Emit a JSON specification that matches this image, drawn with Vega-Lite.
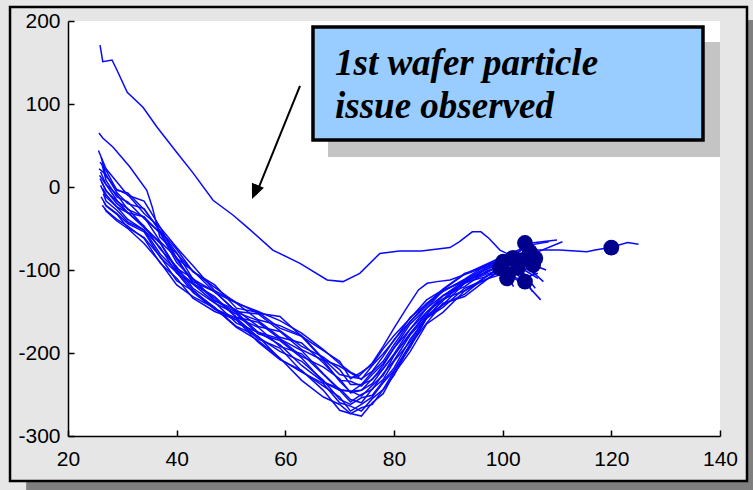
{
  "$schema": "https://vega.github.io/schema/vega-lite/v6.json",
  "width": 652,
  "height": 415,
  "autosize": "none",
  "padding": {"left": 68, "top": 21, "right": 33, "bottom": 54},
  "background": "#e6e6e6",
  "config": {
    "view": {"stroke": null, "fill": null},
    "axis": {
      "grid": false,
      "domainColor": "#000000",
      "domainWidth": 1.5,
      "tickColor": "#000000",
      "tickWidth": 1.5,
      "tickSize": -6,
      "labelFont": "Liberation Sans",
      "labelFontSize": 21,
      "labelColor": "#000000",
      "labelFlush": false,
      "labelOverlap": false
    }
  },
  "datasets": {
    "runs": [
      {"run":"r01","x":25.6,"y":44},{"run":"r01","x":27,"y":22},{"run":"r01","x":29,"y":6},{"run":"r01","x":31,"y":-10},{"run":"r01","x":34,"y":-17},{"run":"r01","x":37,"y":-49},{"run":"r01","x":40,"y":-73},{"run":"r01","x":43,"y":-95},{"run":"r01","x":47,"y":-125},{"run":"r01","x":51,"y":-139},{"run":"r01","x":55,"y":-152},{"run":"r01","x":59,"y":-156},{"run":"r01","x":63,"y":-180},{"run":"r01","x":67,"y":-197},{"run":"r01","x":70,"y":-210},{"run":"r01","x":72,"y":-231},{"run":"r01","x":74,"y":-223},{"run":"r01","x":76,"y":-214},{"run":"r01","x":78,"y":-195},{"run":"r01","x":80,"y":-179},{"run":"r01","x":83,"y":-158},{"run":"r01","x":86,"y":-136},{"run":"r01","x":89,"y":-124},{"run":"r01","x":93,"y":-105},{"run":"r01","x":97,"y":-93},{"run":"r01","x":100,"y":-84},{"run":"r01","x":103,"y":-78},{"run":"r01","x":105,"y":-70},{"run":"r01","x":108.5,"y":-66},
      {"run":"r02","x":25.9,"y":30},{"run":"r02","x":27,"y":20},{"run":"r02","x":29,"y":-4},{"run":"r02","x":31,"y":-7},{"run":"r02","x":34,"y":-27},{"run":"r02","x":37,"y":-53},{"run":"r02","x":40,"y":-75},{"run":"r02","x":43,"y":-102},{"run":"r02","x":47,"y":-118},{"run":"r02","x":51,"y":-146},{"run":"r02","x":55,"y":-151},{"run":"r02","x":59,"y":-170},{"run":"r02","x":63,"y":-180},{"run":"r02","x":67,"y":-208},{"run":"r02","x":70,"y":-216},{"run":"r02","x":72,"y":-224},{"run":"r02","x":74,"y":-232},{"run":"r02","x":76,"y":-215},{"run":"r02","x":78,"y":-201},{"run":"r02","x":80,"y":-185},{"run":"r02","x":83,"y":-157},{"run":"r02","x":86,"y":-141},{"run":"r02","x":89,"y":-123},{"run":"r02","x":93,"y":-104},{"run":"r02","x":97,"y":-96},{"run":"r02","x":100,"y":-87},{"run":"r02","x":102,"y":-84},{"run":"r02","x":104.5,"y":-68},{"run":"r02","x":110,"y":-64},
      {"run":"r03","x":26.1,"y":36},{"run":"r03","x":27,"y":13},{"run":"r03","x":29,"y":-3},{"run":"r03","x":31,"y":-9},{"run":"r03","x":34,"y":-32},{"run":"r03","x":37,"y":-49},{"run":"r03","x":40,"y":-86},{"run":"r03","x":43,"y":-101},{"run":"r03","x":47,"y":-127},{"run":"r03","x":51,"y":-140},{"run":"r03","x":55,"y":-160},{"run":"r03","x":59,"y":-167},{"run":"r03","x":63,"y":-179},{"run":"r03","x":67,"y":-207},{"run":"r03","x":70,"y":-226},{"run":"r03","x":72,"y":-229},{"run":"r03","x":74,"y":-231},{"run":"r03","x":76,"y":-222},{"run":"r03","x":78,"y":-204},{"run":"r03","x":80,"y":-184},{"run":"r03","x":83,"y":-162},{"run":"r03","x":86,"y":-140},{"run":"r03","x":89,"y":-126},{"run":"r03","x":93,"y":-111},{"run":"r03","x":97,"y":-94},{"run":"r03","x":100,"y":-87},{"run":"r03","x":101.5,"y":-88},{"run":"r03","x":103,"y":-92},{"run":"r03","x":106,"y":-80},
      {"run":"r04","x":25.7,"y":22},{"run":"r04","x":27,"y":15},{"run":"r04","x":29,"y":-7},{"run":"r04","x":31,"y":-20},{"run":"r04","x":34,"y":-26},{"run":"r04","x":37,"y":-54},{"run":"r04","x":40,"y":-79},{"run":"r04","x":43,"y":-111},{"run":"r04","x":47,"y":-126},{"run":"r04","x":51,"y":-150},{"run":"r04","x":55,"y":-153},{"run":"r04","x":59,"y":-173},{"run":"r04","x":63,"y":-192},{"run":"r04","x":67,"y":-205},{"run":"r04","x":70,"y":-220},{"run":"r04","x":72,"y":-238},{"run":"r04","x":74,"y":-238},{"run":"r04","x":76,"y":-223},{"run":"r04","x":78,"y":-210},{"run":"r04","x":80,"y":-190},{"run":"r04","x":83,"y":-162},{"run":"r04","x":86,"y":-143},{"run":"r04","x":89,"y":-125},{"run":"r04","x":93,"y":-112},{"run":"r04","x":97,"y":-97},{"run":"r04","x":100,"y":-90},{"run":"r04","x":102.5,"y":-92},{"run":"r04","x":105.5,"y":-95},{"run":"r04","x":107,"y":-88},
      {"run":"r05","x":26.3,"y":26},{"run":"r05","x":27,"y":8},{"run":"r05","x":29,"y":-12},{"run":"r05","x":31,"y":-18},{"run":"r05","x":34,"y":-38},{"run":"r05","x":37,"y":-55},{"run":"r05","x":40,"y":-87},{"run":"r05","x":43,"y":-114},{"run":"r05","x":47,"y":-126},{"run":"r05","x":51,"y":-151},{"run":"r05","x":55,"y":-161},{"run":"r05","x":59,"y":-181},{"run":"r05","x":63,"y":-188},{"run":"r05","x":67,"y":-212},{"run":"r05","x":70,"y":-233},{"run":"r05","x":72,"y":-234},{"run":"r05","x":74,"y":-240},{"run":"r05","x":76,"y":-226},{"run":"r05","x":78,"y":-213},{"run":"r05","x":80,"y":-194},{"run":"r05","x":83,"y":-165},{"run":"r05","x":86,"y":-146},{"run":"r05","x":89,"y":-125},{"run":"r05","x":93,"y":-113},{"run":"r05","x":97,"y":-99},{"run":"r05","x":100,"y":-92},{"run":"r05","x":101.8,"y":-95},{"run":"r05","x":104,"y":-100},{"run":"r05","x":106.5,"y":-110},
      {"run":"r06","x":25.8,"y":14},{"run":"r06","x":27,"y":3},{"run":"r06","x":29,"y":-9},{"run":"r06","x":31,"y":-27},{"run":"r06","x":34,"y":-36},{"run":"r06","x":37,"y":-56},{"run":"r06","x":40,"y":-91},{"run":"r06","x":43,"y":-111},{"run":"r06","x":47,"y":-137},{"run":"r06","x":51,"y":-148},{"run":"r06","x":55,"y":-168},{"run":"r06","x":59,"y":-174},{"run":"r06","x":63,"y":-196},{"run":"r06","x":67,"y":-209},{"run":"r06","x":70,"y":-234},{"run":"r06","x":72,"y":-247},{"run":"r06","x":74,"y":-238},{"run":"r06","x":76,"y":-232},{"run":"r06","x":78,"y":-215},{"run":"r06","x":80,"y":-194},{"run":"r06","x":83,"y":-171},{"run":"r06","x":86,"y":-146},{"run":"r06","x":89,"y":-131},{"run":"r06","x":93,"y":-116},{"run":"r06","x":97,"y":-99},{"run":"r06","x":100,"y":-91},{"run":"r06","x":102,"y":-96},{"run":"r06","x":105,"y":-82},{"run":"r06","x":111,"y":-66},
      {"run":"r07","x":26,"y":18},{"run":"r07","x":27,"y":3},{"run":"r07","x":29,"y":-16},{"run":"r07","x":31,"y":-31},{"run":"r07","x":34,"y":-36},{"run":"r07","x":37,"y":-66},{"run":"r07","x":40,"y":-85},{"run":"r07","x":43,"y":-116},{"run":"r07","x":47,"y":-132},{"run":"r07","x":51,"y":-157},{"run":"r07","x":55,"y":-163},{"run":"r07","x":59,"y":-183},{"run":"r07","x":63,"y":-204},{"run":"r07","x":67,"y":-217},{"run":"r07","x":70,"y":-231},{"run":"r07","x":72,"y":-248},{"run":"r07","x":74,"y":-245},{"run":"r07","x":76,"y":-231},{"run":"r07","x":78,"y":-219},{"run":"r07","x":80,"y":-201},{"run":"r07","x":83,"y":-171},{"run":"r07","x":86,"y":-151},{"run":"r07","x":89,"y":-131},{"run":"r07","x":93,"y":-113},{"run":"r07","x":97,"y":-103},{"run":"r07","x":100,"y":-93},{"run":"r07","x":102.5,"y":-100},{"run":"r07","x":104.2,"y":-112},{"run":"r07","x":105.5,"y":-126},
      {"run":"r08","x":26.2,"y":6},{"run":"r08","x":27,"y":-5},{"run":"r08","x":29,"y":-17},{"run":"r08","x":31,"y":-26},{"run":"r08","x":34,"y":-48},{"run":"r08","x":37,"y":-67},{"run":"r08","x":40,"y":-98},{"run":"r08","x":43,"y":-110},{"run":"r08","x":47,"y":-137},{"run":"r08","x":51,"y":-151},{"run":"r08","x":55,"y":-175},{"run":"r08","x":59,"y":-183},{"run":"r08","x":63,"y":-197},{"run":"r08","x":67,"y":-225},{"run":"r08","x":70,"y":-244},{"run":"r08","x":72,"y":-246},{"run":"r08","x":74,"y":-245},{"run":"r08","x":76,"y":-237},{"run":"r08","x":78,"y":-219},{"run":"r08","x":80,"y":-202},{"run":"r08","x":83,"y":-177},{"run":"r08","x":86,"y":-151},{"run":"r08","x":89,"y":-135},{"run":"r08","x":93,"y":-114},{"run":"r08","x":97,"y":-103},{"run":"r08","x":100,"y":-93},{"run":"r08","x":101,"y":-97},{"run":"r08","x":102.5,"y":-104},{"run":"r08","x":107,"y":-136},
      {"run":"r09","x":25.9,"y":10},{"run":"r09","x":27,"y":-4},{"run":"r09","x":29,"y":-20},{"run":"r09","x":31,"y":-31},{"run":"r09","x":34,"y":-49},{"run":"r09","x":37,"y":-68},{"run":"r09","x":40,"y":-100},{"run":"r09","x":43,"y":-116},{"run":"r09","x":47,"y":-134},{"run":"r09","x":51,"y":-157},{"run":"r09","x":55,"y":-169},{"run":"r09","x":59,"y":-192},{"run":"r09","x":63,"y":-201},{"run":"r09","x":67,"y":-226},{"run":"r09","x":70,"y":-245},{"run":"r09","x":72,"y":-246},{"run":"r09","x":74,"y":-252},{"run":"r09","x":76,"y":-239},{"run":"r09","x":78,"y":-227},{"run":"r09","x":80,"y":-203},{"run":"r09","x":83,"y":-176},{"run":"r09","x":86,"y":-154},{"run":"r09","x":89,"y":-131},{"run":"r09","x":93,"y":-120},{"run":"r09","x":97,"y":-101},{"run":"r09","x":100,"y":-95},{"run":"r09","x":101.5,"y":-102},{"run":"r09","x":100.8,"y":-106},{"run":"r09","x":102,"y":-120},
      {"run":"r10","x":26.4,"y":-2},{"run":"r10","x":27,"y":-9},{"run":"r10","x":29,"y":-24},{"run":"r10","x":31,"y":-31},{"run":"r10","x":34,"y":-47},{"run":"r10","x":37,"y":-75},{"run":"r10","x":40,"y":-96},{"run":"r10","x":43,"y":-122},{"run":"r10","x":47,"y":-140},{"run":"r10","x":51,"y":-153},{"run":"r10","x":55,"y":-177},{"run":"r10","x":59,"y":-185},{"run":"r10","x":63,"y":-206},{"run":"r10","x":67,"y":-235},{"run":"r10","x":70,"y":-245},{"run":"r10","x":72,"y":-259},{"run":"r10","x":74,"y":-250},{"run":"r10","x":76,"y":-244},{"run":"r10","x":78,"y":-225},{"run":"r10","x":80,"y":-209},{"run":"r10","x":83,"y":-178},{"run":"r10","x":86,"y":-157},{"run":"r10","x":89,"y":-137},{"run":"r10","x":93,"y":-115},{"run":"r10","x":97,"y":-108},{"run":"r10","x":100,"y":-94},{"run":"r10","x":102,"y":-100},{"run":"r10","x":104.5,"y":-108},{"run":"r10","x":106.5,"y":-104},
      {"run":"r11","x":26,"y":2},{"run":"r11","x":27,"y":-12},{"run":"r11","x":29,"y":-24},{"run":"r11","x":31,"y":-39},{"run":"r11","x":34,"y":-52},{"run":"r11","x":37,"y":-73},{"run":"r11","x":40,"y":-104},{"run":"r11","x":43,"y":-117},{"run":"r11","x":47,"y":-139},{"run":"r11","x":51,"y":-164},{"run":"r11","x":55,"y":-175},{"run":"r11","x":59,"y":-190},{"run":"r11","x":63,"y":-215},{"run":"r11","x":67,"y":-235},{"run":"r11","x":70,"y":-243},{"run":"r11","x":72,"y":-256},{"run":"r11","x":74,"y":-260},{"run":"r11","x":76,"y":-243},{"run":"r11","x":78,"y":-232},{"run":"r11","x":80,"y":-210},{"run":"r11","x":83,"y":-186},{"run":"r11","x":86,"y":-155},{"run":"r11","x":89,"y":-142},{"run":"r11","x":93,"y":-116},{"run":"r11","x":97,"y":-105},{"run":"r11","x":100,"y":-99},{"run":"r11","x":101.5,"y":-103},{"run":"r11","x":103.5,"y":-92},{"run":"r11","x":106,"y":-94},
      {"run":"r12","x":26.5,"y":-8},{"run":"r12","x":27,"y":-17},{"run":"r12","x":29,"y":-28},{"run":"r12","x":31,"y":-42},{"run":"r12","x":34,"y":-52},{"run":"r12","x":37,"y":-81},{"run":"r12","x":40,"y":-101},{"run":"r12","x":43,"y":-124},{"run":"r12","x":47,"y":-147},{"run":"r12","x":51,"y":-158},{"run":"r12","x":55,"y":-181},{"run":"r12","x":59,"y":-198},{"run":"r12","x":63,"y":-210},{"run":"r12","x":67,"y":-233},{"run":"r12","x":70,"y":-256},{"run":"r12","x":72,"y":-262},{"run":"r12","x":74,"y":-254},{"run":"r12","x":76,"y":-251},{"run":"r12","x":78,"y":-234},{"run":"r12","x":80,"y":-218},{"run":"r12","x":83,"y":-183},{"run":"r12","x":86,"y":-158},{"run":"r12","x":89,"y":-135},{"run":"r12","x":93,"y":-125},{"run":"r12","x":97,"y":-108},{"run":"r12","x":100,"y":-95},{"run":"r12","x":101,"y":-104},{"run":"r12","x":104,"y":-90},{"run":"r12","x":108,"y":-100},
      {"run":"r13","x":26.1,"y":-12},{"run":"r13","x":27,"y":-22},{"run":"r13","x":29,"y":-32},{"run":"r13","x":31,"y":-44},{"run":"r13","x":34,"y":-54},{"run":"r13","x":37,"y":-85},{"run":"r13","x":40,"y":-103},{"run":"r13","x":43,"y":-127},{"run":"r13","x":47,"y":-147},{"run":"r13","x":51,"y":-160},{"run":"r13","x":55,"y":-183},{"run":"r13","x":59,"y":-194},{"run":"r13","x":63,"y":-222},{"run":"r13","x":67,"y":-240},{"run":"r13","x":70,"y":-253},{"run":"r13","x":72,"y":-270},{"run":"r13","x":74,"y":-262},{"run":"r13","x":76,"y":-253},{"run":"r13","x":78,"y":-236},{"run":"r13","x":80,"y":-221},{"run":"r13","x":83,"y":-189},{"run":"r13","x":86,"y":-158},{"run":"r13","x":89,"y":-145},{"run":"r13","x":93,"y":-122},{"run":"r13","x":97,"y":-111},{"run":"r13","x":100,"y":-99},{"run":"r13","x":101.5,"y":-105},{"run":"r13","x":104.8,"y":-98},{"run":"r13","x":107.5,"y":-114},
      {"run":"r14","x":26.6,"y":-18},{"run":"r14","x":27,"y":-23},{"run":"r14","x":29,"y":-33},{"run":"r14","x":31,"y":-49},{"run":"r14","x":34,"y":-61},{"run":"r14","x":37,"y":-84},{"run":"r14","x":40,"y":-113},{"run":"r14","x":43,"y":-125},{"run":"r14","x":47,"y":-145},{"run":"r14","x":51,"y":-168},{"run":"r14","x":55,"y":-180},{"run":"r14","x":59,"y":-207},{"run":"r14","x":63,"y":-223},{"run":"r14","x":67,"y":-237},{"run":"r14","x":70,"y":-260},{"run":"r14","x":72,"y":-264},{"run":"r14","x":74,"y":-270},{"run":"r14","x":76,"y":-255},{"run":"r14","x":78,"y":-244},{"run":"r14","x":80,"y":-222},{"run":"r14","x":83,"y":-193},{"run":"r14","x":86,"y":-158},{"run":"r14","x":89,"y":-142},{"run":"r14","x":93,"y":-129},{"run":"r14","x":97,"y":-107},{"run":"r14","x":100,"y":-102},{"run":"r14","x":101.2,"y":-106},{"run":"r14","x":103,"y":-96},{"run":"r14","x":106,"y":-122},
      {"run":"r15","x":26.3,"y":-22},{"run":"r15","x":27,"y":-28},{"run":"r15","x":29,"y":-39},{"run":"r15","x":31,"y":-47},{"run":"r15","x":34,"y":-62},{"run":"r15","x":37,"y":-92},{"run":"r15","x":40,"y":-110},{"run":"r15","x":43,"y":-134},{"run":"r15","x":47,"y":-150},{"run":"r15","x":51,"y":-160},{"run":"r15","x":55,"y":-187},{"run":"r15","x":59,"y":-208},{"run":"r15","x":63,"y":-221},{"run":"r15","x":67,"y":-245},{"run":"r15","x":70,"y":-269},{"run":"r15","x":72,"y":-273},{"run":"r15","x":74,"y":-266},{"run":"r15","x":76,"y":-262},{"run":"r15","x":78,"y":-244},{"run":"r15","x":80,"y":-227},{"run":"r15","x":83,"y":-190},{"run":"r15","x":86,"y":-164},{"run":"r15","x":89,"y":-140},{"run":"r15","x":93,"y":-132},{"run":"r15","x":97,"y":-112},{"run":"r15","x":100,"y":-99},{"run":"r15","x":101.5,"y":-107},{"run":"r15","x":104,"y":-118},{"run":"r15","x":105,"y":-112},
      {"run":"r16","x":26.8,"y":-26},{"run":"r16","x":27,"y":-29},{"run":"r16","x":29,"y":-41},{"run":"r16","x":31,"y":-50},{"run":"r16","x":34,"y":-68},{"run":"r16","x":37,"y":-91},{"run":"r16","x":40,"y":-118},{"run":"r16","x":43,"y":-132},{"run":"r16","x":47,"y":-146},{"run":"r16","x":51,"y":-169},{"run":"r16","x":55,"y":-185},{"run":"r16","x":59,"y":-206},{"run":"r16","x":63,"y":-233},{"run":"r16","x":67,"y":-253},{"run":"r16","x":70,"y":-262},{"run":"r16","x":72,"y":-273},{"run":"r16","x":74,"y":-276},{"run":"r16","x":76,"y":-260},{"run":"r16","x":78,"y":-249},{"run":"r16","x":80,"y":-225},{"run":"r16","x":83,"y":-198},{"run":"r16","x":86,"y":-165},{"run":"r16","x":89,"y":-151},{"run":"r16","x":93,"y":-125},{"run":"r16","x":97,"y":-111},{"run":"r16","x":100,"y":-105},{"run":"r16","x":101.8,"y":-108},{"run":"r16","x":104,"y":-113},{"run":"r16","x":106.5,"y":-100},
      {"run":"r17","x":25.7,"y":65},{"run":"r17","x":26.4,"y":59},{"run":"r17","x":28.3,"y":48},{"run":"r17","x":31.4,"y":24},{"run":"r17","x":34.5,"y":-4},{"run":"r17","x":35.5,"y":-24},{"run":"r17","x":36.9,"y":-60},{"run":"r17","x":40,"y":-80},{"run":"r17","x":43,"y":-102},{"run":"r17","x":47,"y":-121},{"run":"r17","x":51,"y":-140},{"run":"r17","x":55,"y":-150},{"run":"r17","x":59,"y":-161},{"run":"r17","x":63,"y":-176},{"run":"r17","x":67,"y":-196},{"run":"r17","x":70,"y":-213},{"run":"r17","x":72,"y":-223},{"run":"r17","x":73.5,"y":-228},{"run":"r17","x":76,"y":-212},{"run":"r17","x":78,"y":-192},{"run":"r17","x":80,"y":-170},{"run":"r17","x":82.4,"y":-145},{"run":"r17","x":84.5,"y":-124},{"run":"r17","x":86.1,"y":-116},{"run":"r17","x":87.9,"y":-114},{"run":"r17","x":90.3,"y":-112},{"run":"r17","x":94.5,"y":-102},{"run":"r17","x":98,"y":-91},{"run":"r17","x":101,"y":-82},{"run":"r17","x":103.5,"y":-74},
      {"run":"r18","x":25.9,"y":171},{"run":"r18","x":26.4,"y":151},{"run":"r18","x":28.1,"y":153},{"run":"r18","x":29,"y":141},{"run":"r18","x":30.9,"y":114},{"run":"r18","x":33.8,"y":96},{"run":"r18","x":36.4,"y":72},{"run":"r18","x":40.1,"y":41},{"run":"r18","x":43,"y":17},{"run":"r18","x":46.7,"y":-16},{"run":"r18","x":50.4,"y":-34},{"run":"r18","x":52.9,"y":-48},{"run":"r18","x":57.7,"y":-76},{"run":"r18","x":62.7,"y":-92},{"run":"r18","x":67.7,"y":-112},{"run":"r18","x":70.6,"y":-114},{"run":"r18","x":73.7,"y":-104},{"run":"r18","x":77.4,"y":-80},{"run":"r18","x":81,"y":-77},{"run":"r18","x":85,"y":-77},{"run":"r18","x":90.3,"y":-73},{"run":"r18","x":92,"y":-66},{"run":"r18","x":94.4,"y":-54},{"run":"r18","x":96,"y":-54},{"run":"r18","x":97.5,"y":-62},{"run":"r18","x":99.5,"y":-76},{"run":"r18","x":102,"y":-84},{"run":"r18","x":106,"y":-76},{"run":"r18","x":110.5,"y":-76},{"run":"r18","x":115.5,"y":-78},{"run":"r18","x":117,"y":-76},{"run":"r18","x":119.8,"y":-73},{"run":"r18","x":123,"y":-67},{"run":"r18","x":125,"y":-69}
    ],
    "endpoints": [
      {"x":104.1,"y":-67.5},{"x":105,"y":-78},{"x":101.9,"y":-85.5},{"x":100.1,"y":-90},{"x":101,"y":-106},{"x":104.1,"y":-114},{"x":105.6,"y":-94},{"x":102.8,"y":-97.6},{"x":99.5,"y":-97.6},{"x":100.8,"y":-110},{"x":103.5,"y":-88},{"x":106,"y":-86},{"x":120,"y":-73}
    ]
  },
  "layer": [
    {
      "data": {"values": [{}]},
      "mark": {"type": "rect", "fill": "#7f7f7f", "clip": false},
      "encoding": {
        "x": {"datum": 12.3, "type": "quantitative", "title": null},
        "x2": {"datum": 146.6},
        "y": {"datum": 201.2, "type": "quantitative", "title": null},
        "y2": {"datum": -368.7}
      }
    },
    {
      "data": {"values": [{}]},
      "mark": {"type": "rect", "fill": "#e6e6e6", "stroke": "#000000", "strokeWidth": 2.5, "clip": false},
      "encoding": {
        "x": {"datum": 9.33, "type": "quantitative", "title": null},
        "x2": {"datum": 144.97},
        "y": {"datum": 216.9, "type": "quantitative", "title": null},
        "y2": {"datum": -354.2}
      }
    },
    {
      "data": {"values": [{}]},
      "mark": {"type": "rect", "fill": "#ffffff"},
      "encoding": {
        "x": {"datum": 20, "type": "quantitative", "title": null},
        "x2": {"datum": 140},
        "y": {"datum": 200, "type": "quantitative", "title": null},
        "y2": {"datum": -300}
      }
    },
    {
      "data": {"name": "runs"},
      "mark": {"type": "line", "color": "#0808ff", "strokeWidth": 1.5, "clip": false},
      "encoding": {
        "x": {
          "field": "x", "type": "quantitative",
          "scale": {"domain": [20, 140], "nice": false, "zero": false},
          "axis": {"title": null, "zindex": 1, "values": [20, 40, 60, 80, 100, 120, 140], "labelPadding": 18, "labelExpr": "'' + datum.value"}
        },
        "y": {
          "field": "y", "type": "quantitative",
          "scale": {"domain": [-300, 200], "nice": false, "zero": false},
          "axis": {"title": null, "zindex": 1, "values": [-300, -200, -100, 0, 100, 200], "labelPadding": 14, "labelExpr": "'' + datum.value"}
        },
        "detail": {"field": "run"},
        "order": {"value": null}
      }
    },
    {
      "data": {"name": "endpoints"},
      "mark": {"type": "point", "filled": true, "shape": "circle", "size": 250, "color": "#00008c", "opacity": 1},
      "encoding": {
        "x": {"field": "x", "type": "quantitative", "title": null},
        "y": {"field": "y", "type": "quantitative", "title": null}
      }
    },
    {
      "data": {"values": [{}]},
      "mark": {"type": "rule", "color": "#000000", "strokeWidth": 2, "clip": false},
      "encoding": {
        "x": {"datum": 62.7, "type": "quantitative", "title": null},
        "y": {"datum": 121.7, "type": "quantitative", "title": null},
        "x2": {"datum": 54.6},
        "y2": {"datum": -9}
      }
    },
    {
      "data": {"values": [{}]},
      "mark": {"type": "point", "filled": true, "color": "#000000", "opacity": 1, "shape": "M0,0L-0.65,-1.5L0.65,-1.5Z", "size": 400, "angle": 23, "clip": false},
      "encoding": {
        "x": {"datum": 53.87, "type": "quantitative", "title": null},
        "y": {"datum": -14.5, "type": "quantitative", "title": null}
      }
    },
    {
      "data": {"values": [{}]},
      "mark": {"type": "rect", "fill": "#c4c4c4", "clip": false},
      "encoding": {
        "x": {"datum": 67.85, "type": "quantitative", "title": null},
        "x2": {"datum": 140.0},
        "y": {"datum": 174.7, "type": "quantitative", "title": null},
        "y2": {"datum": 36.1}
      }
    },
    {
      "data": {"values": [{}]},
      "mark": {"type": "rect", "fill": "#99ccff", "stroke": "#000000", "strokeWidth": 3.5, "clip": false},
      "encoding": {
        "x": {"datum": 65.09, "type": "quantitative", "title": null},
        "x2": {"datum": 136.87},
        "y": {"datum": 192.8, "type": "quantitative", "title": null},
        "y2": {"datum": 56.6}
      }
    },
    {
      "data": {"values": [{}]},
      "mark": {"type": "text", "align": "left", "baseline": "alphabetic", "font": "Liberation Serif", "fontSize": 37, "fontWeight": "bold", "fontStyle": "italic", "color": "#000000", "lineHeight": 43, "clip": false},
      "encoding": {
        "x": {"datum": 69.14, "type": "quantitative", "title": null},
        "y": {"datum": 134.9, "type": "quantitative", "title": null},
        "text": {"value": ["1st wafer particle", "issue observed"]}
      }
    }
  ]
}
